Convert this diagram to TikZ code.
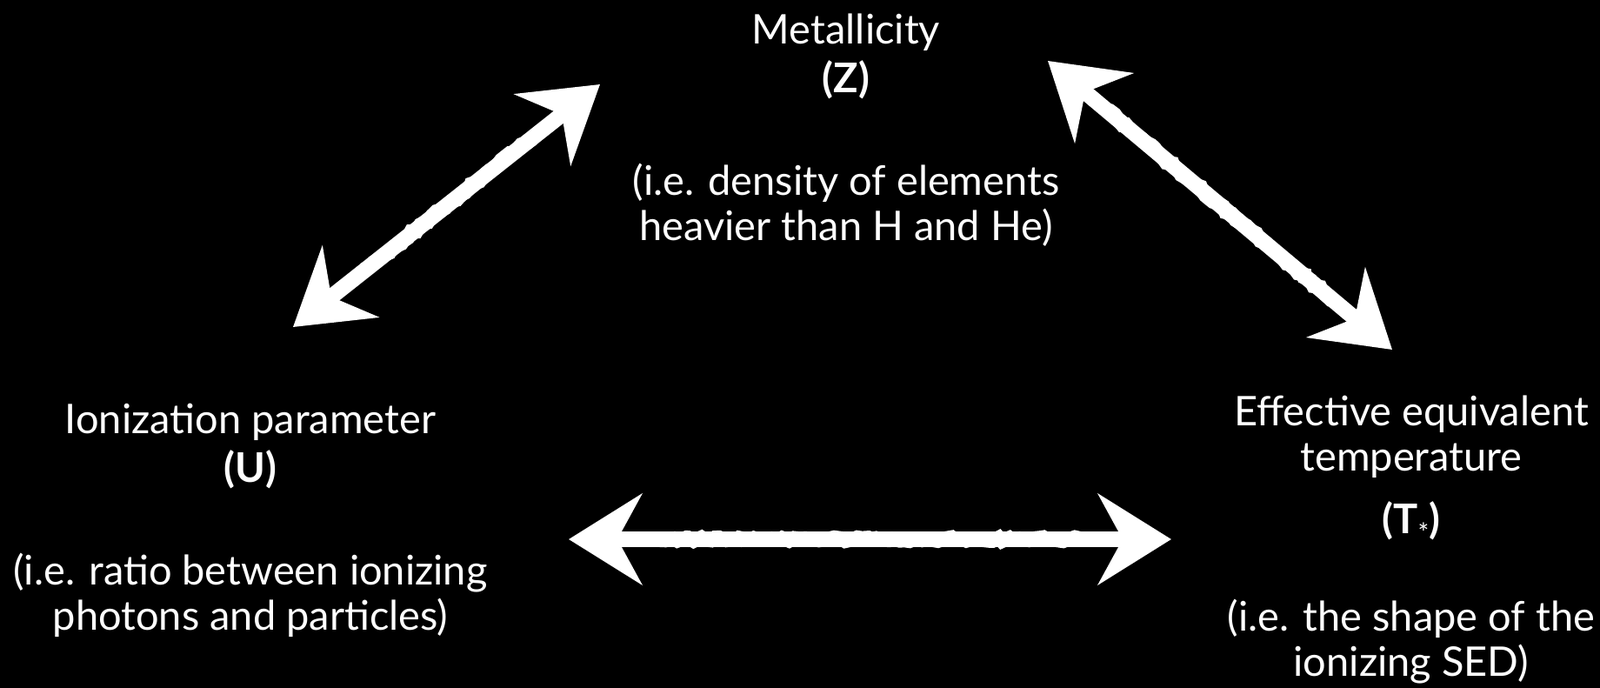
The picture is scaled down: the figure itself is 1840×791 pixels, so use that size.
\documentclass[tikz,border=0pt]{standalone}
\usepackage{fontspec}
\setmainfont{Lato}
\usetikzlibrary{arrows.meta,decorations.pathmorphing,calc}
\begin{document}
\begin{tikzpicture}[x=0.5pt,y=-0.5pt,
  lbl/.style={text=white,align=center,inner sep=0pt,font=\fontsize{23.5}{26}\selectfont},
  headtip/.tip={Stealth[length=42pt,width=52pt,inset=14pt]},
  chalk/.style={white,line width=9pt,{headtip}-{headtip}},
  rough/.style={white,line width=8pt,decorate,decoration={random steps,segment length=3pt,amplitude=1.2pt}}]
\fill[black] (0,0) rectangle (1840,791);
\useasboundingbox (0,0) rectangle (1840,791);
\node[lbl] (Z) at (973,150) {Metallicity\\[2pt]\textbf{(Z)}\\[33pt](i.e. density of elements\\heavier than H and He)};
\node[lbl] (U) at (288,598) {Ionization parameter\\[2pt]\textbf{(U)}\\[33pt](i.e. ratio between ionizing\\photons and particles)};
\node[lbl] (T) at (1623,620) {Effective equivalent\\temperature\\[10pt]\textbf{(T}\raisebox{-5pt}{\fontsize{15}{15}\selectfont *}\textbf{)}\\[30pt](i.e. the shape of the\\ionizing SED)};
\coordinate (a1) at (690,97);
\coordinate (a2) at (337,376);
\coordinate (b1) at (1205,70);
\coordinate (b2) at (1601,402);
\coordinate (c1) at (654,620);
\coordinate (c2) at (1347,620);
\draw[chalk] (a1) -- (a2);
\draw[chalk] (b1) -- (b2);
\draw[chalk] (c1) -- (c2);
\draw[rough] ($(a1)!0.2!(a2)$) -- ($(a1)!0.8!(a2)$);
\draw[rough] ($(b1)!0.17!(b2)$) -- ($(b1)!0.83!(b2)$);
\draw[rough] ($(c1)!0.14!(c2)$) -- ($(c1)!0.86!(c2)$);
\end{tikzpicture}
\end{document}
